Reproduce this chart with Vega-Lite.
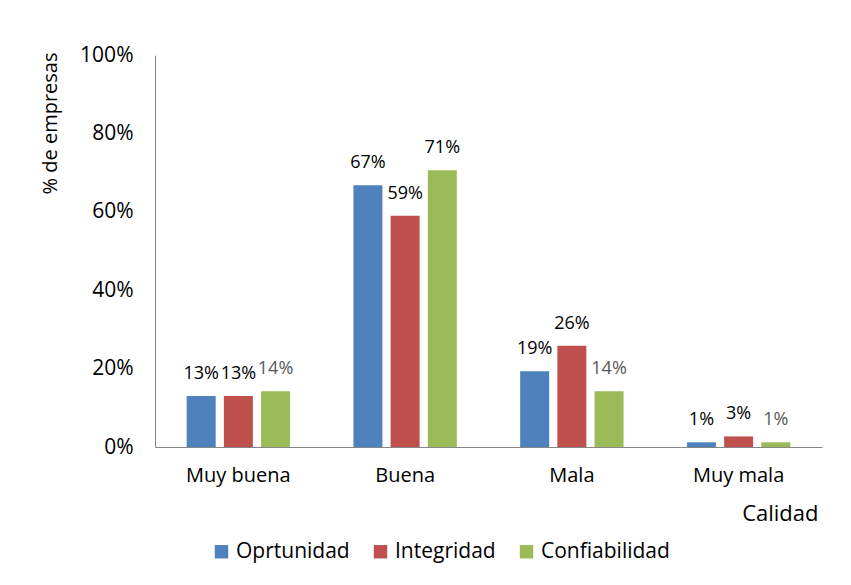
{
  "$schema": "https://vega.github.io/schema/vega-lite/v6.json",
  "autosize": {"type": "none"},
  "padding": {"left": 155, "top": 55, "right": 29, "bottom": 137},
  "width": 667,
  "height": 392,
  "background": "white",
  "config": {
    "view": {"stroke": null},
    "font": "Open Sans",
    "axis": {"grid": false, "ticks": false, "domainColor": "#868686", "labelColor": "#000000", "titleColor": "#000000", "labelFont": "Open Sans", "titleFont": "Open Sans", "titleFontWeight": "normal"}
  },
  "data": {
    "values": [
      {"calidad": "Muy buena", "serie": "Oprtunidad", "v": 0.13},
      {"calidad": "Muy buena", "serie": "Integridad", "v": 0.13},
      {"calidad": "Muy buena", "serie": "Confiabilidad", "v": 0.142},
      {"calidad": "Buena", "serie": "Oprtunidad", "v": 0.668},
      {"calidad": "Buena", "serie": "Integridad", "v": 0.59},
      {"calidad": "Buena", "serie": "Confiabilidad", "v": 0.706},
      {"calidad": "Mala", "serie": "Oprtunidad", "v": 0.193},
      {"calidad": "Mala", "serie": "Integridad", "v": 0.258},
      {"calidad": "Mala", "serie": "Confiabilidad", "v": 0.142},
      {"calidad": "Muy mala", "serie": "Oprtunidad", "v": 0.012},
      {"calidad": "Muy mala", "serie": "Integridad", "v": 0.027},
      {"calidad": "Muy mala", "serie": "Confiabilidad", "v": 0.012}
    ]
  },
  "encoding": {
    "x": {
      "field": "calidad", "type": "nominal",
      "sort": ["Muy buena", "Buena", "Mala", "Muy mala"],
      "scale": {"paddingInner": 0.38, "paddingOuter": 0.19},
      "axis": {"labelAngle": 0, "labelFontSize": 20, "labelPadding": 18, "title": "Calidad", "titleFontSize": 22, "titleX": 663, "titleY": 66, "titleAlign": "right", "titleBaseline": "middle"}
    },
    "xOffset": {"field": "serie", "type": "nominal", "sort": ["Oprtunidad", "Integridad", "Confiabilidad"], "scale": {"paddingInner": 0.22}},
    "y": {
      "field": "v", "type": "quantitative",
      "scale": {"domain": [0, 1]},
      "axis": {"format": ".0%", "values": [0, 0.2, 0.4, 0.6, 0.8, 1], "labelFontSize": 21, "labelPadding": 22, "title": "% de empresas", "titleFontSize": 20, "titleX": -105, "titleY": 68, "titleAlign": "center", "titleBaseline": "middle"}
    }
  },
  "layer": [
    {
      "mark": {"type": "bar"},
      "encoding": {
        "color": {
          "field": "serie", "type": "nominal",
          "sort": ["Oprtunidad", "Integridad", "Confiabilidad"],
          "scale": {"domain": ["Oprtunidad", "Integridad", "Confiabilidad"], "range": ["#4F81BD", "#C0504D", "#9BBB59"]},
          "legend": {"orient": "none", "direction": "horizontal", "legendX": 56, "legendY": 486, "title": null, "symbolType": "square", "symbolSize": 180, "labelFontSize": 21, "labelFont": "Open Sans", "labelColor": "#000000", "columnPadding": 20, "labelOffset": 4, "symbolStrokeWidth": 0}
        }
      }
    },
    {
      "mark": {"type": "text", "baseline": "alphabetic", "dy": -17, "fontSize": 18},
      "encoding": {
        "text": {"field": "v", "type": "quantitative", "format": ".0%"},
        "color": {"condition": {"test": "datum.serie === 'Confiabilidad' && datum.v < 0.5", "value": "#595959"}, "value": "#000000"}
      }
    }
  ]
}
